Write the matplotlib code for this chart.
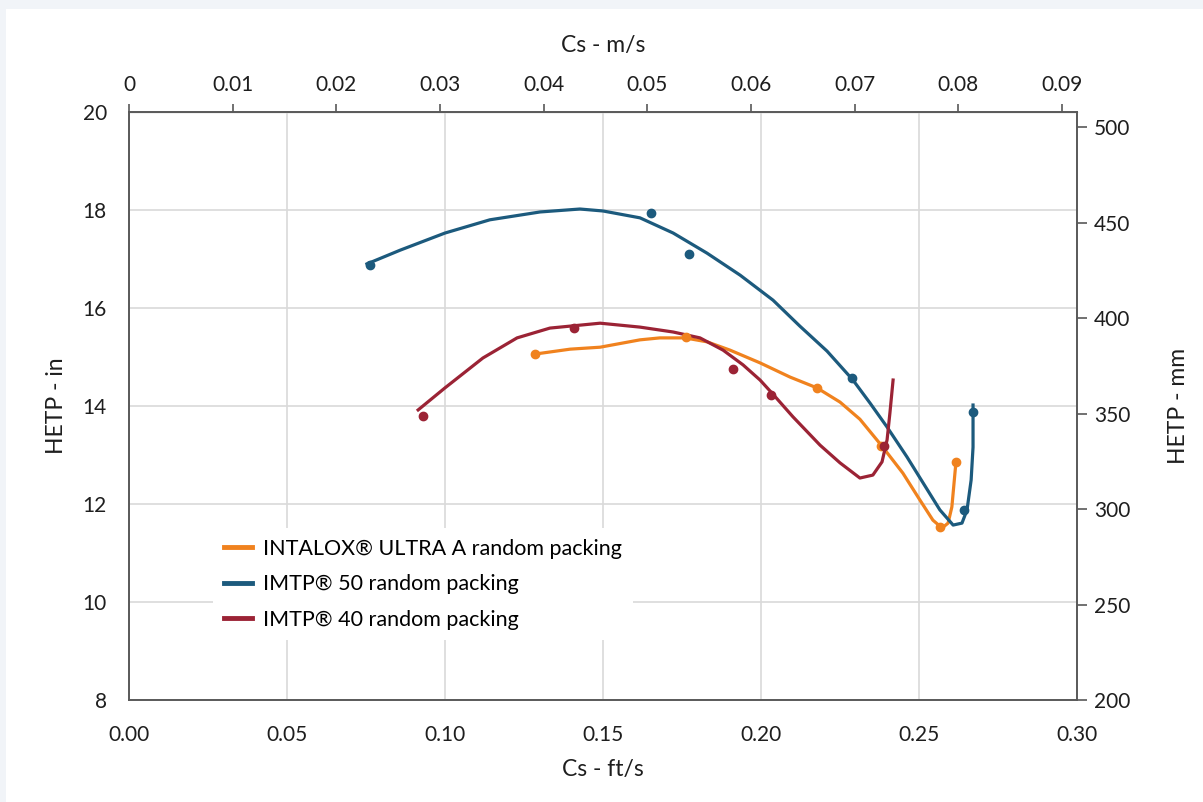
import matplotlib.pyplot as plt
from matplotlib.patches import Rectangle

plt.rcParams['font.family'] = ['Lato', 'DejaVu Sans']

# Gemessene Punkte (Cs in ft/s, HETP in in)
ultra_x = [0.1285, 0.1763, 0.2177, 0.2380, 0.2566, 0.2617]
ultra_y = [15.06, 15.41, 14.37, 13.18, 11.53, 12.86]
imtp50_x = [0.0763, 0.1652, 0.1772, 0.2288, 0.2642, 0.2671]
imtp50_y = [16.88, 17.94, 17.10, 14.57, 11.88, 13.88]
imtp40_x = [0.0930, 0.1408, 0.1911, 0.2032, 0.2389]
imtp40_y = [13.80, 15.59, 14.76, 14.22, 13.18]

# Ausgleichskurven
ultra_cx = [0.1285, 0.1396, 0.1491, 0.1617, 0.1680, 0.1759, 0.1829, 0.1902, 0.1997,
            0.2092, 0.2177, 0.2250, 0.2313, 0.2383, 0.2449, 0.2503, 0.2544, 0.2573,
            0.2592, 0.2604, 0.2617]
ultra_cy = [15.06, 15.16, 15.20, 15.35, 15.39, 15.39, 15.31, 15.14, 14.88,
            14.59, 14.37, 14.08, 13.73, 13.18, 12.63, 12.08, 11.67, 11.51,
            11.61, 11.94, 12.86]
imtp50_cx = [0.0753, 0.0858, 0.1000, 0.1142, 0.1301, 0.1427, 0.1500, 0.1617, 0.1722,
             0.1829, 0.1934, 0.2038, 0.2123, 0.2209, 0.2291, 0.2345, 0.2399, 0.2462,
             0.2513, 0.2566, 0.2608, 0.2636, 0.2652, 0.2665, 0.2671, 0.2671]
imtp50_cy = [16.90, 17.18, 17.53, 17.80, 17.96, 18.02, 17.98, 17.84, 17.53,
             17.12, 16.67, 16.16, 15.63, 15.12, 14.53, 14.06, 13.57, 12.96,
             12.43, 11.88, 11.57, 11.61, 11.88, 12.49, 13.16, 14.02]
imtp40_cx = [0.0915, 0.1000, 0.1120, 0.1228, 0.1332, 0.1491, 0.1617, 0.1722, 0.1807,
             0.1880, 0.1943, 0.1997, 0.2038, 0.2101, 0.2187, 0.2250, 0.2313, 0.2354,
             0.2383, 0.2399, 0.2408, 0.2418]
imtp40_cy = [13.92, 14.37, 14.98, 15.39, 15.59, 15.69, 15.61, 15.51, 15.39,
             15.14, 14.84, 14.53, 14.24, 13.78, 13.20, 12.84, 12.53, 12.59,
             12.86, 13.31, 13.86, 14.53]

c_ultra = '#f0821e'
c_50 = '#1c5a7d'
c_40 = '#9b2335'
txt = '#1e1e1e'
spine_c = '#595959'

fig = plt.figure(figsize=(12.03, 8.02), dpi=100, facecolor='#f1f4f8')
bg = Rectangle((6 / 1203, 0), 1, 1 - 9 / 802, transform=fig.transFigure,
               facecolor='white', edgecolor='none', zorder=-5)
fig.add_artist(bg)
ax = fig.add_axes([129 / 1203, 102 / 802, 948 / 1203, 588 / 802])

ax.plot(ultra_cx, ultra_cy, color=c_ultra, lw=2.3, label='INTALOX® ULTRA A random packing',
        zorder=3, solid_joinstyle='round')
ax.plot(imtp50_cx, imtp50_cy, color=c_50, lw=2.3, label='IMTP® 50 random packing',
        zorder=3, solid_joinstyle='round')
ax.plot(imtp40_cx, imtp40_cy, color=c_40, lw=2.3, label='IMTP® 40 random packing',
        zorder=3, solid_joinstyle='round')
ax.plot(ultra_x, ultra_y, 'o', color=c_ultra, ms=6, zorder=4)
ax.plot(imtp50_x, imtp50_y, 'o', color=c_50, ms=6, zorder=4)
ax.plot(imtp40_x, imtp40_y, 'o', color=c_40, ms=6, zorder=4)

ax.set_xlim(0, 0.30)
ax.set_ylim(8, 20)
ax.set_xticks([0, 0.05, 0.10, 0.15, 0.20, 0.25, 0.30])
ax.set_xticklabels(['0.00', '0.05', '0.10', '0.15', '0.20', '0.25', '0.30'])
ax.set_yticks(range(8, 21, 2))
ax.grid(True, color='#d9d9d9', lw=1.2)
ax.set_axisbelow(True)
ax.tick_params(axis='x', length=0, labelsize=15, colors=txt, pad=18)
ax.tick_params(axis='y', length=0, labelsize=15, colors=txt, pad=16)
for s in ax.spines.values():
    s.set_color(spine_c)
    s.set_linewidth(1.2)
ax.set_xlabel('Cs - ft/s', fontsize=16.5, color=txt, labelpad=10)
ax.set_ylabel('HETP - in', fontsize=16.5, color=txt)
ax.yaxis.set_label_coords(-0.0654, 0.5)

top = ax.secondary_xaxis('top', functions=(lambda v: v * 0.3048, lambda v: v / 0.3048))
top.set_xticks([0, 0.01, 0.02, 0.03, 0.04, 0.05, 0.06, 0.07, 0.08, 0.09])
top.set_xticklabels(['0', '0.01', '0.02', '0.03', '0.04', '0.05', '0.06', '0.07', '0.08', '0.09'])
top.tick_params(length=6, width=1.2, color=spine_c, labelsize=15, labelcolor=txt, pad=6)
top.set_xlabel('Cs - m/s', fontsize=16.5, color=txt, labelpad=17)

ax2 = ax.twinx()
ax2.set_ylim(200, 508)
ax2.set_yticks(range(200, 501, 50))
ax2.tick_params(length=7, width=1.2, color=spine_c, labelsize=15, labelcolor=txt, pad=5)
for s in ax2.spines.values():
    s.set_color(spine_c)
    s.set_linewidth(1.2)
ax2.set_ylabel('HETP - mm', fontsize=16.5, color=txt)
ax2.yaxis.set_label_coords(1.096, 0.5)

leg = ax.legend(loc='lower left', bbox_to_anchor=(0.077, 0.083), frameon=True, fontsize=15.5,
                handlelength=1.3, handletextpad=0.55, labelspacing=0.72, borderpad=0.5)
leg.get_frame().set_edgecolor('none')
leg.get_frame().set_facecolor('white')
leg.get_frame().set_alpha(1)
leg.set_zorder(5)
for h in leg.get_lines():
    h.set_linewidth(3.5)

fig.savefig('out.png', dpi=100, facecolor=fig.get_facecolor())
